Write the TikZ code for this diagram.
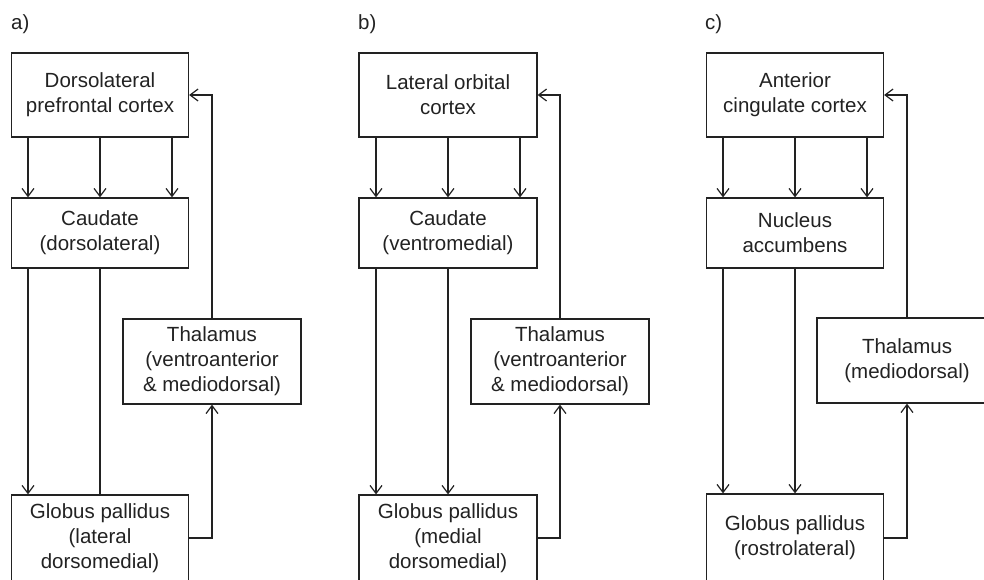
\documentclass[tikz,border=0pt]{standalone}
\usepackage{fontspec}
\setmainfont{Liberation Sans}
\usetikzlibrary{arrows.meta}
\definecolor{ink}{HTML}{222222}
\begin{document}
\begin{tikzpicture}[x=1pt,y=-1pt,
  box/.style={draw=ink, line width=1.2pt, align=center, inner sep=0pt, text=ink,
    font=\fontsize{20.5}{25}\selectfont},
  lbl/.style={anchor=base west, inner sep=0pt, text=ink, font=\fontsize{20.5}{25}\selectfont},
  conn/.style={draw=ink, line width=1.2pt},
  arr/.style={conn, -{Straight Barb[length=8pt,width=12pt,line width=1.2pt]}}]
\useasboundingbox (0,0) rectangle (984,579);
\begin{scope}
\clip (0,0) rectangle (984,579);
% ---------- panel a
\node[lbl] (la) at (11,29) {a)};
\node[box, minimum width=177pt, minimum height=84pt] (ctxA) at (100,95) {Dorsolateral\\prefrontal cortex};
\node[box, minimum width=177pt, minimum height=70pt] (cauA) at (100,233) {Caudate\\(dorsolateral)};
\node[box, minimum width=178pt, minimum height=85pt] (thA) at (212,361.5) {Thalamus\\(ventroanterior\\\& mediodorsal)};
\node[box, minimum width=177pt, minimum height=86pt] (gpA) at (100,538) {Globus pallidus\\(lateral\\dorsomedial)};
\foreach \d in {-72,0,72}{
  \draw[arr] ([xshift=\d pt]ctxA.south) -- ([xshift=\d pt]cauA.north);}
\draw[arr] ([xshift=-72pt]cauA.south) -- ([xshift=-72pt]gpA.north);
\draw[conn] (cauA.south) -- (gpA.north);
\draw[arr] (gpA.east) -| (thA.south);
\draw[arr] (thA.north) |- (ctxA.east);
% ---------- panel b
\node[lbl] (lb) at (358,29) {b)};
\node[box, minimum width=178pt, minimum height=84pt] (ctxB) at (448,95) {Lateral orbital\\cortex};
\node[box, minimum width=178pt, minimum height=70pt] (cauB) at (448,233) {Caudate\\(ventromedial)};
\node[box, minimum width=178pt, minimum height=85pt] (thB) at (560,361.5) {Thalamus\\(ventroanterior\\\& mediodorsal)};
\node[box, minimum width=178pt, minimum height=86pt] (gpB) at (448,538) {Globus pallidus\\(medial\\dorsomedial)};
\foreach \d in {-72,0,72}{
  \draw[arr] ([xshift=\d pt]ctxB.south) -- ([xshift=\d pt]cauB.north);}
\draw[arr] ([xshift=-72pt]cauB.south) -- ([xshift=-72pt]gpB.north);
\draw[arr] (cauB.south) -- (gpB.north);
\draw[arr] (gpB.east) -| (thB.south);
\draw[arr] (thB.north) |- (ctxB.east);
% ---------- panel c
\node[lbl] (lc) at (705,29) {c)};
\node[box, minimum width=177pt, minimum height=84pt] (ctxC) at (795,95) {Anterior\\cingulate cortex};
\node[box, minimum width=177pt, minimum height=70pt] (cauC) at (795,233) {Nucleus\\accumbens};
\node[box, minimum width=180pt, minimum height=85pt] (thC) at (907,360.5) {Thalamus\\(mediodorsal)};
\node[box, minimum width=177pt, minimum height=88pt] (gpC) at (795,538) {Globus pallidus\\(rostrolateral)};
\foreach \d in {-72,0,72}{
  \draw[arr] ([xshift=\d pt]ctxC.south) -- ([xshift=\d pt]cauC.north);}
\draw[arr] ([xshift=-72pt]cauC.south) -- ([xshift=-72pt]gpC.north);
\draw[arr] (cauC.south) -- (gpC.north);
\draw[arr] (gpC.east) -| (thC.south);
\draw[arr] (thC.north) |- (ctxC.east);
\end{scope}
\end{tikzpicture}
\end{document}
